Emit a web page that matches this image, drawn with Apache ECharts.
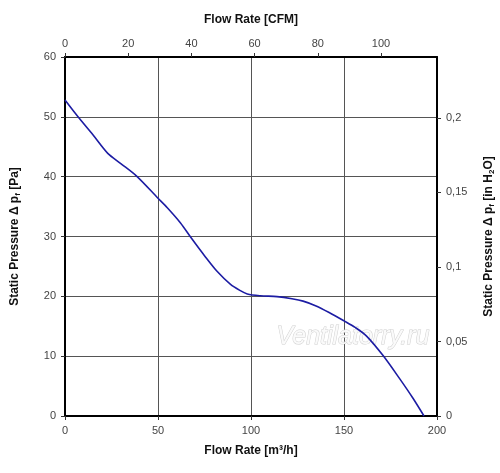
<!DOCTYPE html>
<html>
<head>
<meta charset="utf-8">
<script src="https://cdn.jsdelivr.net/npm/echarts@6/dist/echarts.min.js"></script>
<style>
html, body { margin: 0; padding: 0; background: #fff; }
#chart { width: 500px; height: 473px; }
</style>
</head>
<body>
<div id="chart"></div>
<script>
// flow rate m3/h and static pressure Pa
var flowM3h = [0, 7, 15, 23, 30, 38.5, 50, 55, 62, 68, 75, 82, 89, 94, 98, 105, 114, 122, 128, 135, 142, 150, 156, 162, 171, 180, 187, 193];
var pressPa = [52.8, 50, 47, 43.9, 42.2, 40.1, 36.4, 34.8, 32.3, 29.7, 26.8, 24.1, 22, 21, 20.4, 20.1, 19.95, 19.6, 19.2, 18.4, 17.3, 15.9, 14.8, 13.4, 10.1, 6.2, 3.0, 0];

var cfmMax = 200 / 1.699;     // 200 m3/h in CFM
var inH2OMax = 60 / 249.09;   // 60 Pa in inH2O

var curve = [];
for (var i = 0; i < flowM3h.length; i++) {
    curve.push([flowM3h[i], pressPa[i]]);
}

var font = 'Liberation Sans';
var lblStyle = { color: '#444', fontSize: 11, fontFamily: font };
var nameStyle = { color: '#111', fontSize: 12, fontWeight: 'bold', fontFamily: font };
var subStyle = { color: '#111', fontSize: 8, fontWeight: 'bold', fontFamily: font, verticalAlign: 'bottom', padding: [6, 0, 0, 0] };
var borderLine = { show: true, onZero: false, lineStyle: { color: '#000', width: 2 } };
var tickOut = { show: true, inside: false, length: 4, lineStyle: { color: '#333', width: 1 } };

var chart = echarts.init(document.getElementById('chart'));
var option = {
    backgroundColor: '#fff',
    animation: false,
    grid: { left: 65, right: 63, top: 57, bottom: 57, containLabel: false, outerBoundsMode: 'none' },
    graphic: [{
        type: 'text',
        left: 276,
        top: 324,
        z: 1,
        style: {
            text: 'Ventilatorry.ru',
            fontSize: 25,
            fontStyle: 'italic',
            fontFamily: font,
            fill: '#fafafa',
            stroke: '#d0d0d0',
            lineWidth: 1
        }
    }],
    xAxis: [{
        type: 'value',
        position: 'bottom',
        min: 0, max: 200, interval: 50,
        name: 'Flow Rate [m³/h]',
        nameLocation: 'middle',
        nameGap: 29,
        nameTextStyle: nameStyle,
        axisLine: borderLine,
        axisTick: tickOut,
        axisLabel: Object.assign({ margin: 9 }, lblStyle),
        splitLine: { show: true, lineStyle: { color: '#555', width: 1 } }
    }, {
        type: 'value',
        position: 'top',
        min: 0, max: cfmMax, interval: 20,
        name: 'Flow Rate [CFM]',
        nameLocation: 'middle',
        nameGap: 31,
        nameTextStyle: nameStyle,
        axisLine: borderLine,
        axisTick: tickOut,
        axisLabel: Object.assign({ margin: 8, showMaxLabel: false }, lblStyle),
        splitLine: { show: false }
    }],
    yAxis: [{
        type: 'value',
        position: 'left',
        min: 0, max: 60, interval: 10,
        name: '{a|Static Pressure Δ p}{s|f}{a| [Pa]}',
        nameLocation: 'middle',
        nameRotate: 90,
        nameGap: 43,
        nameTextStyle: { rich: { a: nameStyle, s: subStyle } },
        axisLine: borderLine,
        axisTick: tickOut,
        axisLabel: Object.assign({ margin: 9 }, lblStyle),
        splitLine: { show: true, lineStyle: { color: '#555', width: 1 } }
    }, {
        type: 'value',
        position: 'right',
        min: 0, max: inH2OMax, interval: 0.05,
        name: '{a|Static Pressure Δ p}{s|f}{a| [in H}{s|2}{a|O]}',
        nameLocation: 'middle',
        nameRotate: 90,
        nameGap: 45,
        nameTextStyle: { rich: { a: nameStyle, s: subStyle } },
        axisLine: borderLine,
        axisTick: tickOut,
        axisLabel: Object.assign({
            margin: 9,
            showMaxLabel: false,
            formatter: function (v) {
                return String(Math.round(v * 100) / 100).replace('.', ',');
            }
        }, lblStyle),
        splitLine: { show: false }
    }],
    series: [{
        type: 'line',
        xAxisIndex: 0,
        yAxisIndex: 0,
        data: curve,
        smooth: 0.3,
        showSymbol: false,
        z: 5,
        lineStyle: { color: '#1c1ca3', width: 1.6 }
    }]
};
chart.setOption(option);
</script>
</body>
</html>
